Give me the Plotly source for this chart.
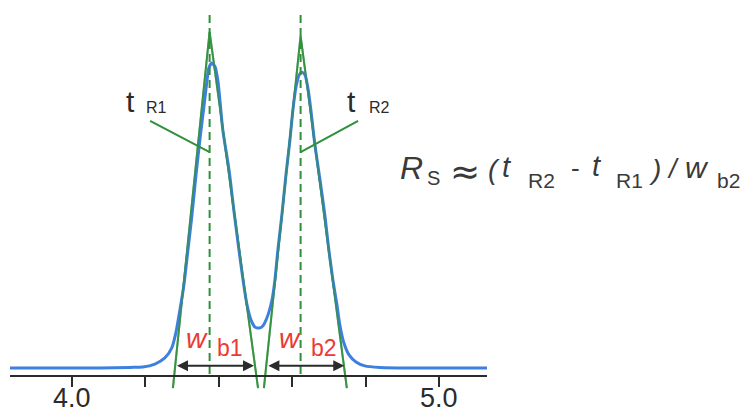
import plotly.graph_objects as go

# ---------------- data ----------------
time_min = [3.831, 3.967, 4.076, 4.158, 4.193, 4.226, 4.253, 4.272, 4.283, 4.294,
            4.305, 4.316, 4.327, 4.338, 4.349, 4.360, 4.368, 4.373, 4.381, 4.390,
            4.398, 4.403, 4.411, 4.428, 4.441, 4.455, 4.466, 4.477, 4.488, 4.499,
            4.510, 4.520, 4.531, 4.545, 4.553, 4.561, 4.572, 4.583, 4.594, 4.602,
            4.610, 4.619, 4.627, 4.635, 4.643, 4.651, 4.662, 4.676, 4.689, 4.700,
            4.711, 4.722, 4.730, 4.741, 4.755, 4.774, 4.798, 4.839, 4.948, 5.131]
signal = [0, 0, 0, 0.2, 0.3, 1.3, 3.3, 6.6, 11.5, 19.0,
          27.2, 38.7, 50.2, 63.3, 75.4, 86.2, 94.4, 98.4, 100.0, 98.7,
          93.8, 87.9, 78.0, 64.9, 51.8, 38.7, 28.9, 20.7, 15.7, 13.4,
          13.1, 13.8, 16.4, 22.3, 28.9, 38.7, 50.2, 63.3, 74.8, 84.6,
          91.8, 96.1, 97.0, 96.1, 91.8, 84.6, 73.1, 61.6, 50.2, 38.7,
          28.9, 20.7, 14.1, 8.2, 4.3, 2.0, 0.7, 0.2, 0, 0]

retention_times = [4.375, 4.623]          # t_R1, t_R2
tangent_apex = [110.2, 108.9]             # apex of the tangent triangles
tangent_left_base = [4.275, 4.523]        # tangent end points (below baseline)
tangent_right_base = [4.507, 4.749]
tangent_bottom = -6.6
width_start = [4.282, 4.531]              # w_b1, w_b2 arrows
width_end = [4.496, 4.742]
arrow_level = 0.7
leader_level = 70.8
dash_top = 115.7
dash_bottom = -2.6

tick_values = [4.0, 4.2, 4.4, 4.6, 4.8, 5.0]
tick_labels = ["4.0", "", "", "", "", "5.0"]

x_range = [3.831, 5.131]
y_range = [-7.87, 118.03]

# ---------------- styling ----------------
GREEN = "#2f8f3a"
BLUE = "#3f80de"
RED = "#ec3a33"
DARK = "#2b2b2b"
FONT = "Arial, Liberation Sans, sans-serif"
WIDE = "DejaVu Sans, sans-serif"

OFF = 8                     # page body margin offset
W, H = 751 - OFF, 409 - OFF
ML, MR, MT, MB = 2, 264, 0, 17
PW, PH = W - ML - MR, H - MT - MB


def paper(px, py):
    """screen pixel -> paper coordinates"""
    return (px - OFF - ML) / PW, (MT + PH - (py - OFF)) / PH


fig = go.Figure()

# tangent lines
for i in range(2):
    fig.add_trace(go.Scatter(
        x=[tangent_left_base[i], retention_times[i], tangent_right_base[i]],
        y=[tangent_bottom, tangent_apex[i], tangent_bottom],
        mode="lines", line=dict(color=GREEN, width=2), opacity=0.9,
        hoverinfo="skip", showlegend=False))

# chromatogram
fig.add_trace(go.Scatter(
    x=time_min, y=signal, mode="lines",
    line=dict(color=BLUE, width=3, shape="spline", smoothing=0.6),
    showlegend=False))

# tangents again on top (lighter) so both remain visible
for i in range(2):
    fig.add_trace(go.Scatter(
        x=[tangent_left_base[i], retention_times[i], tangent_right_base[i]],
        y=[tangent_bottom, tangent_apex[i], tangent_bottom],
        mode="lines", line=dict(color=GREEN, width=2), opacity=0.55,
        hoverinfo="skip", showlegend=False))

# dashed retention lines
for t in retention_times:
    fig.add_trace(go.Scatter(
        x=[t, t], y=[dash_top, dash_bottom], mode="lines",
        line=dict(color=GREEN, width=2, dash="8px,5px"),
        hoverinfo="skip", showlegend=False))

annotations = []

# width arrows
for i in range(2):
    annotations.append(dict(
        x=width_end[i], y=arrow_level, ax=width_start[i], ay=arrow_level,
        xref="x", yref="y", axref="x", ayref="y", text="",
        showarrow=True, arrowhead=2, arrowside="end+start",
        arrowsize=1.1, arrowwidth=2, arrowcolor=DARK))

# leader lines to t_R labels
annotations.append(dict(x=retention_times[0], y=leader_level, ax=-61, ay=-32,
                        xref="x", yref="y", text="", showarrow=True,
                        arrowhead=0, arrowwidth=2, arrowcolor=GREEN))
annotations.append(dict(x=retention_times[1], y=leader_level, ax=59, ay=-32,
                        xref="x", yref="y", text="", showarrow=True,
                        arrowhead=0, arrowwidth=2, arrowcolor=GREEN))

# tick labels (placed close under the ticks like the reference)
_, tick_label_y = paper(0, 398)
for v, txt in zip(tick_values, tick_labels):
    if txt:
        annotations.append(dict(text=txt, x=v, y=tick_label_y, xref="x", yref="paper",
                                xanchor="center", yanchor="middle", showarrow=False,
                                font=dict(family=FONT, size=27, color=DARK)))


def label(text, px, py, size, color=DARK, family=FONT):
    x, y = paper(px, py)
    annotations.append(dict(text=text, x=x, y=y, xref="paper", yref="paper",
                            xanchor="center", yanchor="middle", showarrow=False,
                            font=dict(family=family, size=size, color=color)))


label("t", 131, 102, 30)
label("R1", 156, 108, 16)
label("t", 351, 102, 30)
label("R2", 379, 108, 16)

label("<i>w</i>", 197, 338, 28, RED)
label("b1", 230, 348, 23, RED)
label("<i>w</i>", 290, 338, 28, RED)
label("b2", 324, 348, 23, RED)

# formula  R_S ≈ ( t_R2 - t_R1 ) / w_b2, token by token
FC = "#3a3a3a"
label("<i>R</i>", 411, 168, 32, FC)
label("S", 433, 178, 20, FC)
label("≈", 465, 171, 36, FC, WIDE)
label("<i>(</i>", 494, 169, 28, FC)
label("<i>t</i>", 507, 167, 29, FC)
label("R2", 541, 180, 21, FC)
label("-", 575, 168, 26, FC)
label("<i>t</i>", 597, 166, 29, FC)
label("R1", 629, 180, 21, FC)
label("<i>)</i>", 655, 169, 28, FC)
label("<i>/</i>", 673, 169, 27, FC)
label("<i>w</i>", 697, 167, 30, FC)
label("b2", 728, 180, 21, FC)

fig.update_layout(
    width=W, height=H,
    margin=dict(l=ML, r=MR, t=MT, b=MB, autoexpand=False),
    paper_bgcolor="white", plot_bgcolor="white",
    annotations=annotations,
    showlegend=False,
    xaxis=dict(range=x_range, anchor="free", position=16 / PH,
               automargin=False,
               showline=True, linecolor=DARK, linewidth=2,
               ticks="outside", ticklen=10, tickwidth=2, tickcolor=DARK,
               tickvals=tick_values, showticklabels=False,
               showgrid=False, zeroline=False, fixedrange=True),
    yaxis=dict(range=y_range, visible=False, showgrid=False,
               zeroline=False, fixedrange=True, automargin=False),
)

fig.write_html("out.html")
